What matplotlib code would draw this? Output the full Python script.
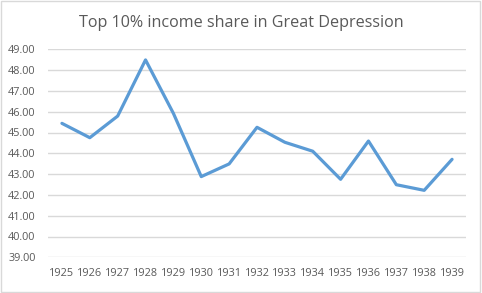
import matplotlib
matplotlib.use('Agg')
import matplotlib.pyplot as plt
from matplotlib.patches import Rectangle

years = [1925, 1926, 1927, 1928, 1929, 1930, 1931, 1932, 1933, 1934, 1935, 1936, 1937, 1938, 1939]
share = [45.44, 44.75, 45.79, 48.49, 45.92, 42.88, 43.49, 45.25, 44.53, 44.10, 42.75, 44.59, 42.49, 42.22, 43.71]
y_ticks = [39, 40, 41, 42, 43, 44, 45, 46, 47, 48, 49]

plt.rcParams['font.family'] = ['Open Sans', 'DejaVu Sans']

fig = plt.figure(figsize=(4.82, 2.93), dpi=100)
fig.patches.append(Rectangle((0.002, 0.003), 0.994, 0.992, transform=fig.transFigure,
                             fill=False, edgecolor='#D9D9D9', linewidth=1))
ax = fig.add_axes([48 / 482, 1 - 257.3 / 293, 418 / 482, (257.3 - 49.3) / 293])

x = list(range(len(years)))
ax.plot(x, share, color='#5B9BD5', linewidth=2.3, solid_joinstyle='round', solid_capstyle='round')

ax.set_xlim(-0.5, len(years) - 0.5)
ax.set_ylim(39, 49)
ax.set_yticks(y_ticks)
ax.set_yticklabels(['%.2f' % v for v in y_ticks])
ax.set_xticks(x)
ax.set_xticklabels([str(y) for y in years])
ax.grid(axis='y', color='#D9D9D9', linewidth=1)
ax.set_axisbelow(True)
for s in ax.spines.values():
    s.set_visible(False)
ax.tick_params(axis='both', length=0, labelsize=7.8, labelcolor='#595959')
ax.tick_params(axis='y', pad=9)
ax.tick_params(axis='x', pad=8)

fig.text(0.5, 1 - 23 / 293, 'Top 10% income share in Great Depression', ha='center', va='center',
         fontsize=11.6, color='#595959')

fig.savefig('out.png', dpi=100)
